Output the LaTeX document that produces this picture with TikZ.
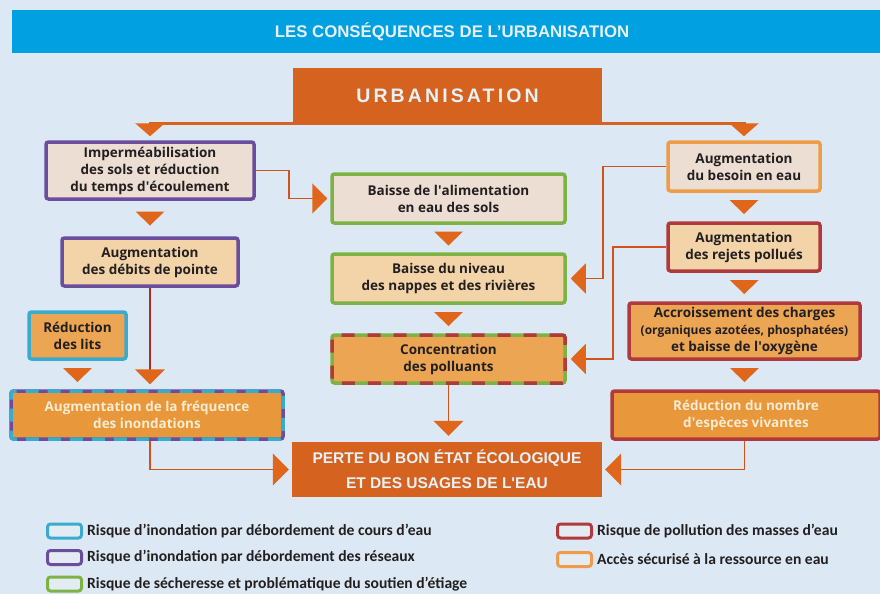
\documentclass[tikz,border=0pt]{standalone}
\usepackage{fontspec}
\setmainfont{Open Sans}
\newfontfamily\headfont{Liberation Sans}
\newfontfamily\spacedfont[LetterSpace=16]{Liberation Sans}
\newfontfamily\legfont{Carlito}
\usetikzlibrary{arrows.meta,positioning,calc}
\definecolor{bgblue}{HTML}{DCE9F4}
\definecolor{titleblue}{HTML}{00A0E1}
\definecolor{titletext}{HTML}{E8F1F6}
\definecolor{urbaorange}{HTML}{D5631F}
\definecolor{tiporange}{HTML}{E0661C}
\definecolor{linkred}{HTML}{D2521E}
\definecolor{darklink}{HTML}{A8301F}
\definecolor{textdark}{HTML}{231F20}
\definecolor{creamtext}{HTML}{FAEBD2}
\definecolor{riskcyan}{HTML}{3AABCF}
\definecolor{riskpurple}{HTML}{6A4D9C}
\definecolor{riskgreen}{HTML}{7DB244}
\definecolor{riskred}{HTML}{B0393B}
\definecolor{riskorange}{HTML}{EE9C4A}
\definecolor{palefill}{HTML}{EDDED3}
\definecolor{beigefill}{HTML}{F2D4A8}
\definecolor{orangefill}{HTML}{EBA553}
\definecolor{strongfill}{HTML}{E8983A}
\definecolor{swatchfill}{HTML}{E3ECF2}
% triangle between two boxes, pointing down
\newcommand{\flowtri}[2]{\fill[tiporange] ($#1!0.5!#2$) ++(-14.5pt,7pt) -- ++(29pt,0pt) -- ++(-14.5pt,-14pt) -- cycle;}

\begin{document}
\begin{tikzpicture}[x=1pt,y=-1pt,
  box/.style={draw,line width=3.5pt,rounded corners=2.5pt,align=center,text=textdark,inner sep=1pt,
    font=\bfseries\fontsize{13.5}{17}\selectfont},
  purplebox/.style={box,draw=riskpurple},
  cyanbox/.style={box,draw=riskcyan},
  greenbox/.style={box,draw=riskgreen},
  redbox/.style={box,draw=riskred},
  orangebox/.style={box,draw=riskorange},
  mainbox/.style={fill=urbaorange,align=center,text=titletext},
  link/.style={line width=1.6pt,draw=linkred,shorten >=3pt,
    -{Triangle[width=30pt,length=15pt,color=tiporange,fill=tiporange]}},
  toplink/.style={line width=3pt,draw=urbaorange,shorten >=4pt,
    -{Triangle[width=29pt,length=13pt,color=tiporange,fill=tiporange]}},
  swatch/.style={draw,line width=3pt,rounded corners=3pt,fill=swatchfill,minimum width=34pt,minimum height=14pt,inner sep=0pt},
  legtext/.style={font=\legfont\bfseries\fontsize{15.6}{18}\selectfont,text=textdark,inner sep=0pt,anchor=west}
]
\useasboundingbox (0,0) rectangle (880,594);
\fill[bgblue] (0,0) rectangle (880,594);

% title
\fill[titleblue] (12,10) rectangle (885,53);
\node[font=\headfont\bfseries\fontsize{16.8}{18}\selectfont,text=titletext] (title) at (452,31.5) {LES CONSÉQUENCES DE L’URBANISATION};

% top
\node[mainbox,minimum width=309pt,minimum height=55pt,font=\spacedfont\bfseries\fontsize{19.5}{22}\selectfont] (urba) at (447.5,95.5) {URBANISATION};

% left column
\node[purplebox,fill=palefill,minimum width=208pt,minimum height=57pt] (imperm) at (150,170.5) {Imperméabilisation\\des sols et réduction\\du temps d\textquotesingle écoulement};
\node[purplebox,fill=beigefill,minimum width=176pt,minimum height=48pt] (debits) at (150,262) {Augmentation\\des débits de pointe};
\node[cyanbox,fill=orangefill,minimum width=97pt,minimum height=47pt] (lits) at (77.5,335.5) {Réduction\\des lits};
\node[box,draw=riskpurple,fill=strongfill,text=creamtext,minimum width=272pt,minimum height=48pt,
  postaction={draw=riskcyan,line width=3.5pt,dash pattern=on 13pt off 9pt}] (inond) at (147,415) {Augmentation de la fréquence\\des inondations};

% centre column
\node[greenbox,fill=palefill,minimum width=233pt,minimum height=49pt] (alim) at (448.5,198.5) {Baisse de l\textquotesingle alimentation\\en eau des sols};
\node[greenbox,fill=beigefill,minimum width=233pt,minimum height=49pt] (nappes) at (448.5,278.5) {Baisse du niveau\\des nappes et des rivières};
\node[box,draw=riskgreen,fill=orangefill,minimum width=233pt,minimum height=48pt,
  postaction={draw=riskred,line width=3.5pt,dash pattern=on 13pt off 13pt}] (polluants) at (448.5,359) {Concentration\\des polluants};
\node[mainbox,minimum width=310pt,minimum height=55pt,font=\headfont\bfseries\fontsize{15.5}{25}\selectfont] (perte) at (447,469.5) {PERTE DU BON ÉTAT ÉCOLOGIQUE\\ET DES USAGES DE L\textquotesingle EAU};

% right column
\node[orangebox,fill=palefill,minimum width=152pt,minimum height=49pt] (besoin) at (744,166.5) {Augmentation\\du besoin en eau};
\node[redbox,fill=beigefill,minimum width=152pt,minimum height=48pt] (rejets) at (744,247) {Augmentation\\des rejets pollués};
\node[redbox,fill=orangefill,minimum width=231pt,minimum height=56pt] (charges) at (744.5,331) {Accroissement des charges\\{\fontsize{12}{16}\selectfont(organiques azotées, phosphatées)}\\et baisse de l\textquotesingle oxygène};
\node[redbox,fill=strongfill,text=creamtext,minimum width=268pt,minimum height=48pt] (especes) at (746,415) {Réduction du nombre\\d\textquotesingle espèces vivantes};

% connectors
\draw[toplink] (urba.south) -| (imperm.north);
\draw[toplink] (urba.south) -| (besoin.north);
\draw[link] (imperm.east) -- ++(33,0) |- (alim.west);
\draw[link,draw=darklink,shorten >=5pt] (debits.south) -- (debits.south |- inond.north);
\draw[link,-{Triangle[width=32pt,length=16pt,color=tiporange,fill=tiporange]}] (debits.south |- inond.south) |- (perte.west);
\draw[link,shorten >=6pt] (polluants.south) -- (polluants.south |- perte.north);
\draw[link,shorten >=4pt] (besoin.west) -- ++(-63,0) |- (nappes.east);
\draw[link,shorten >=4pt] (rejets.west) -- ++(-53,0) |- (polluants.east);
\draw[link,-{Triangle[width=32pt,length=16pt,color=tiporange,fill=tiporange]}] (charges.south |- especes.south) |- (perte.east);
\flowtri{(imperm.south)}{(debits.north)}
\flowtri{(lits.south)}{(lits.south |- inond.north)}
\flowtri{(alim.south)}{(nappes.north)}
\flowtri{(nappes.south)}{(polluants.north)}
\flowtri{(besoin.south)}{(rejets.north)}
\flowtri{(rejets.south)}{(charges.north)}
\flowtri{(charges.south)}{(charges.south |- especes.north)}

% legend
\node[swatch,draw=riskcyan] (swcyan) at (64.5,531) {};
\node[legtext,right=4pt of swcyan] (legcyan) {Risque d’inondation par débordement de cours d’eau};
\node[swatch,draw=riskpurple] (swpurple) at (64.5,557.5) {};
\node[legtext,right=4pt of swpurple] (legpurple) {Risque d’inondation par débordement des réseaux};
\node[swatch,draw=riskgreen] (swgreen) at (64.5,584) {};
\node[legtext,right=4pt of swgreen] (leggreen) {Risque de sécheresse et problématique du soutien d’étiage};
\node[swatch,draw=riskred] (swred) at (574.5,531) {};
\node[legtext,right=4pt of swred] (legred) {Risque de pollution des masses d’eau};
\node[swatch,draw=riskorange] (sworange) at (574.5,559.5) {};
\node[legtext,right=4pt of sworange] (legorange) {Accès sécurisé à la ressource en eau};
\end{tikzpicture}
\end{document}
